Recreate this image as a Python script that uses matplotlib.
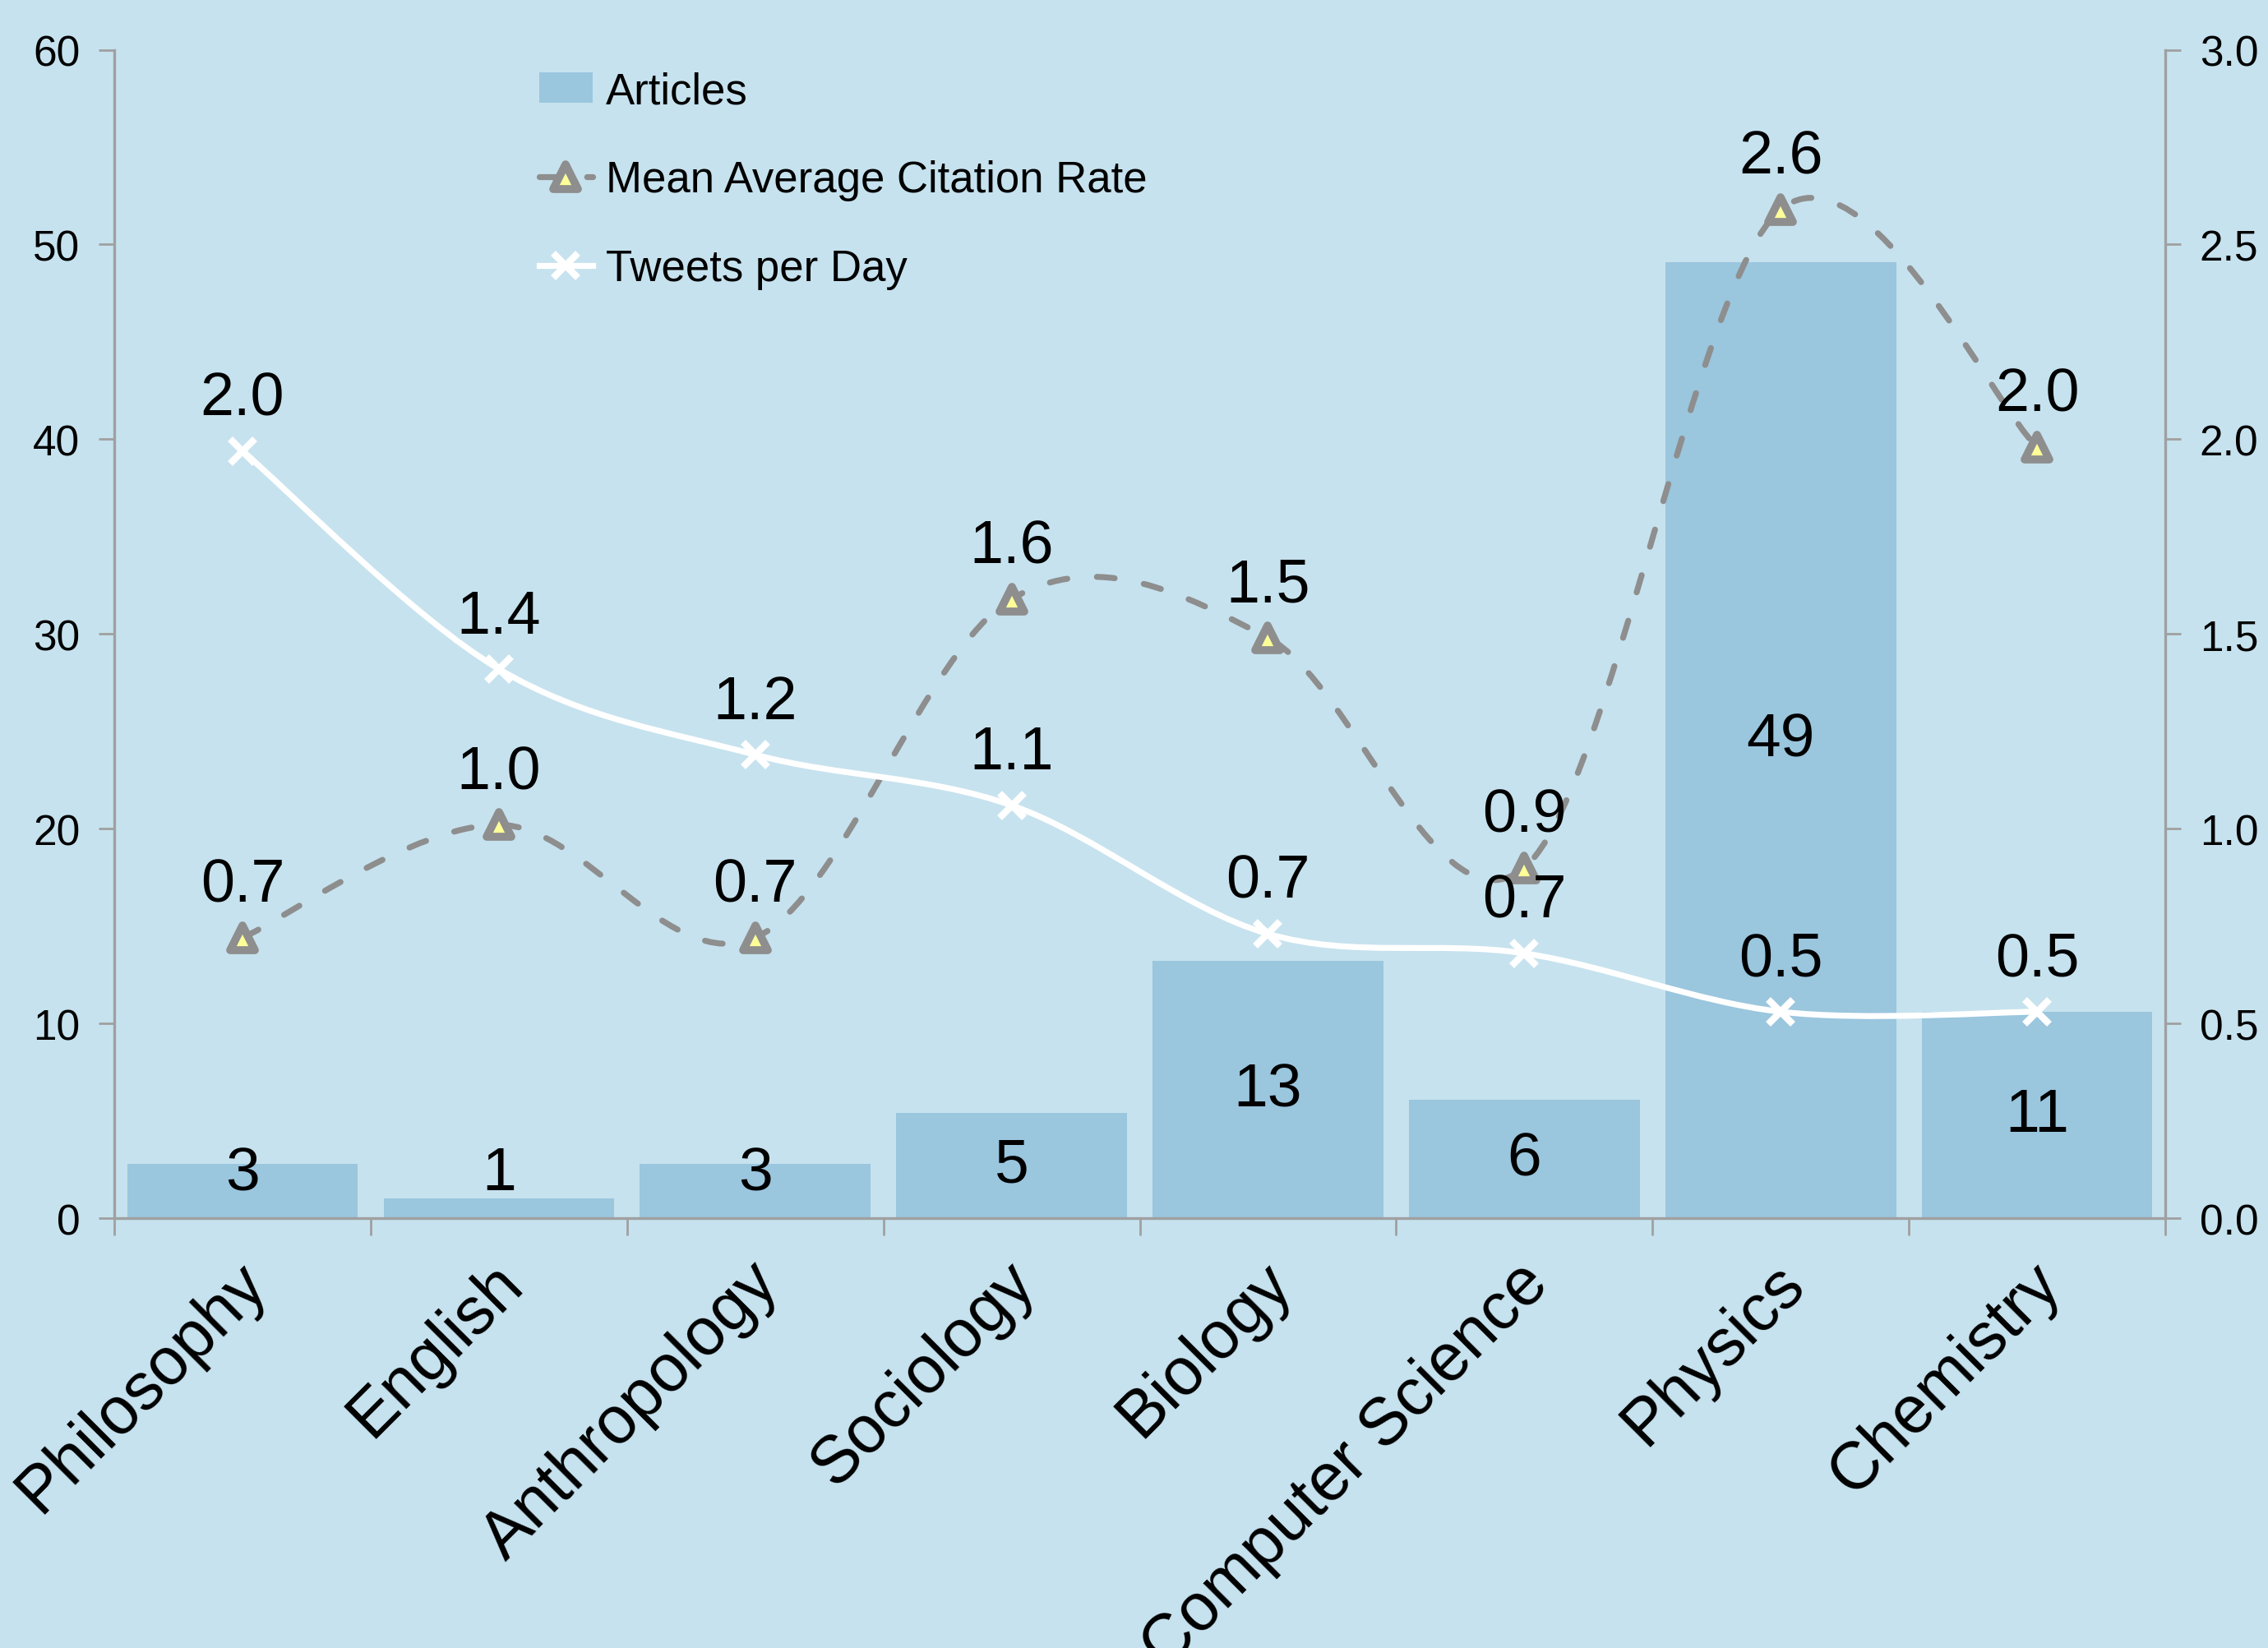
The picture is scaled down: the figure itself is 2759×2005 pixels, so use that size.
import matplotlib
matplotlib.use('Agg')
import matplotlib.pyplot as plt
import matplotlib.transforms as mtransforms
from matplotlib.path import Path
from matplotlib.patches import PathPatch, Patch
from matplotlib.lines import Line2D
from matplotlib.markers import MarkerStyle
from matplotlib.ticker import FormatStrFormatter
import numpy as np

categories = ['Philosophy', 'English', 'Anthropology', 'Sociology', 'Biology',
              'Computer Science', 'Physics', 'Chemistry']
articles = [2.8, 1.0, 2.8, 5.4, 13.2, 6.1, 49.1, 10.6]
citation_rate = [0.72, 1.01, 0.72, 1.59, 1.49, 0.90, 2.59, 1.98]
tweets_per_day = [1.97, 1.41, 1.19, 1.06, 0.73, 0.68, 0.53, 0.53]
left_ticks = [0, 10, 20, 30, 40, 50, 60]
right_ticks = [0.0, 0.5, 1.0, 1.5, 2.0, 2.5, 3.0]

BG = '#C6E2EE'
BAR = '#9AC6DE'
GRAY = '#8E8E8E'
YELLOW = '#FFFF99'
AXIS = '#A0A0A0'

plt.rcParams['font.family'] = ['Liberation Sans', 'DejaVu Sans']

fig = plt.figure(figsize=(2759 / 200, 2006 / 200), dpi=200, facecolor=BG)
ax = fig.add_axes([0.0504, 0.2607, 0.9043, 0.7086])
ax.set_facecolor(BG)
ax2 = ax.twinx()

x = np.arange(len(categories))
ax.bar(x, articles, width=0.9, color=BAR, zorder=2)
ax.set_xlim(-0.5, len(categories) - 0.5)
ax.set_ylim(0, 60)
ax2.set_ylim(0, 3)

# bar labels
for xi, v in zip(x, articles):
    ax.text(xi, max(v / 2, 2.3), f'{v:.0f}', ha='center', va='center',
            fontsize=27, color='black', zorder=4)


def smooth_path(xs, ys):
    pts = np.column_stack([xs, ys]).astype(float)
    verts = [pts[0]]
    codes = [Path.MOVETO]
    n = len(pts)
    for i in range(n - 1):
        p0 = pts[i - 1] if i > 0 else pts[i]
        p1 = pts[i]
        p2 = pts[i + 1]
        p3 = pts[i + 2] if i + 2 < n else pts[i + 1]
        c1 = p1 + (p2 - p0) / 6.0
        c2 = p2 - (p3 - p1) / 6.0
        verts += [c1, c2, p2]
        codes += [Path.CURVE4] * 3
    return Path(verts, codes)


LW = 2.6
dash = (0, (3.0, 5.0))
tri = MarkerStyle('^', joinstyle='round')
TRI_MS, TRI_MEW = 10.5, 3.5
X_MS, X_MEW = 10.5, 3.0
cit_patch = PathPatch(smooth_path(x, citation_rate), fill=False, edgecolor=GRAY,
                      lw=LW, linestyle=dash, capstyle='round', zorder=3)
ax2.add_patch(cit_patch)
tw_patch = PathPatch(smooth_path(x, tweets_per_day), fill=False, edgecolor='white',
                     lw=LW, capstyle='round', zorder=3)
ax2.add_patch(tw_patch)

ax2.plot(x, citation_rate, ls='none', marker=tri, ms=TRI_MS, mfc=YELLOW, mec=GRAY,
         mew=TRI_MEW, zorder=4)
ax2.plot(x, tweets_per_day, ls='none', marker='x', ms=X_MS, mec='white',
         mew=X_MEW, zorder=4)

for xi, v in zip(x, citation_rate):
    ax2.annotate(f'{v:.1f}', (xi, v), xytext=(0, 23), textcoords='offset points',
                 ha='center', va='center', fontsize=26.5, color='black', zorder=5)
for xi, v in zip(x, tweets_per_day):
    ax2.annotate(f'{v:.1f}', (xi, v), xytext=(0, 23), textcoords='offset points',
                 ha='center', va='center', fontsize=26.5, color='black', zorder=5)

# x axis
ax.set_xticks(x)
ax.set_xticklabels(categories, fontsize=29)
ax.tick_params(axis='x', which='major', length=0, pad=21)
shift = mtransforms.ScaledTranslation(6 / 72, -3 / 72, fig.dpi_scale_trans)
for lbl in ax.get_xticklabels():
    lbl.set_rotation(45)
    lbl.set_ha('right')
    lbl.set_va('center')
    lbl.set_rotation_mode('anchor')
    lbl.set_transform(lbl.get_transform() + shift)
ax.set_xticks(np.arange(-0.5, len(categories), 1.0), minor=True)
ax.tick_params(axis='x', which='minor', length=7.5, width=1, color=AXIS)

# y axes
ax.set_yticks(left_ticks)
ax.tick_params(axis='y', length=7, width=1, color=AXIS, labelsize=18.5, pad=8)
ax2.set_yticks(right_ticks)
ax2.yaxis.set_major_formatter(FormatStrFormatter('%.1f'))
ax2.tick_params(axis='y', length=7, width=1, color=AXIS, labelsize=18.5, pad=8)

for s in ['top', 'right']:
    ax.spines[s].set_visible(False)
for s in ['left', 'bottom']:
    ax.spines[s].set_color(AXIS)
    ax.spines[s].set_linewidth(1.2)
for s in ['top', 'left', 'bottom']:
    ax2.spines[s].set_visible(False)
ax2.spines['right'].set_color(AXIS)
ax2.spines['right'].set_linewidth(1.2)

handles = [
    Patch(facecolor=BAR, edgecolor='none'),
    Line2D([], [], color=GRAY, lw=LW, ls=dash, dash_capstyle='round', marker=tri,
           ms=TRI_MS, mfc=YELLOW, mec=GRAY, mew=TRI_MEW),
    Line2D([], [], color='white', lw=LW, marker='x', ms=X_MS, mec='white', mew=X_MEW),
]
labels = ['Articles', 'Mean Average Citation Rate', 'Tweets per Day']
ax2.legend(handles, labels, loc='upper left', bbox_to_anchor=(0.207, 0.982),
           frameon=False, fontsize=19, handlelength=1.25, handletextpad=0.3,
           labelspacing=1.1, borderaxespad=0, borderpad=0)

fig.savefig('out.png', dpi=200, facecolor=BG)
